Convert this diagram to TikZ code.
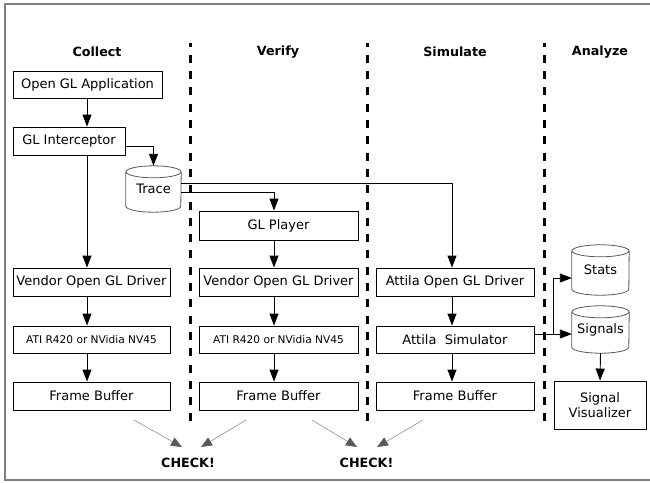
\documentclass[tikz,border=0pt]{standalone}
\usepackage{fontspec}
\setmainfont{DejaVu Sans}
\usetikzlibrary{arrows.meta}
\newcommand\mycyl[2]{%
  \fill[white] ([yshift=-6pt]#1.north west) -- ([yshift=6pt]#1.south west) arc[start angle=180,end angle=360,x radius=#2,y radius=6pt] -- ([yshift=-6pt]#1.north east) arc[start angle=0,end angle=180,x radius=#2,y radius=6pt] -- cycle;
  \draw[cylsty] ([yshift=-6pt]#1.north west) -- ([yshift=6pt]#1.south west) arc[start angle=180,end angle=360,x radius=#2,y radius=6pt] -- ([yshift=-6pt]#1.north east);
  \draw[cylsty] ([yshift=-6pt]#1.north) ellipse[x radius=#2, y radius=6pt];
}
\begin{document}
\begin{tikzpicture}[x=1pt,y=-1pt,
  box/.style={draw, line width=0.9pt, inner sep=0pt, minimum height=28pt, font=\fontsize{13}{15.5}\selectfont, align=center},
  smalltxt/.style={font=\fontsize{10.6}{13}\selectfont},
  hdr/.style={font=\bfseries\fontsize{12.7}{15}\selectfont, inner sep=0pt},
  cylnode/.style={inner sep=0pt, font=\fontsize{13}{15.5}\selectfont},
  cylsty/.style={draw=black!65, line width=0.8pt},
  arr/.style={-{Triangle[length=12pt,width=9pt]}, line width=0.9pt},
  chk/.style={-{Triangle[length=11pt,width=9pt,color=black!65,fill=black!65]}, line width=0.6pt, draw=black!45},
  divsty/.style={line width=3pt, dash pattern=on 8pt off 8.3pt, dash phase=4.5pt}]
\useasboundingbox (0,0) rectangle (650,482);
\draw[black!50, line width=1.2pt] (652,4) -- (5,4) -- (5,480) -- (652,480);

% dividers
\draw[divsty] (190,43) -- (190,428);
\draw[divsty] (367,43) -- (367,428);
\draw[divsty] (544,43) -- (544,428);

% headers
\node[hdr] (h1) at (97,52) {Collect};
\node[hdr] (h2) at (278,52) {Verify};
\node[hdr] (h3) at (455,52) {Simulate};
\node[hdr] (h4) at (600,52) {Analyze};

% column arrow x
\coordinate (c1) at (87,0);
\coordinate (c2) at (274,0);
\coordinate (c3) at (452,0);

% boxes
\node[box, minimum width=149pt, minimum height=27pt] (app) at (87.5,84.5) {Open GL Application};
\node[box, minimum width=112pt] (icpt) at (69,141) {GL Interceptor};
\node[box, minimum width=159pt, minimum height=29pt] (player) at (278.5,225.5) {GL Player};

\node[box, minimum width=157pt] (vend1) at (91.5,282) {Vendor Open GL Driver};
\node[box, minimum width=159pt] (vend2) at (278.5,282) {Vendor Open GL Driver};
\node[box, minimum width=158pt] (attdrv) at (455,282) {Attila Open GL Driver};

\node[box, smalltxt, minimum width=157pt, minimum height=27pt] (ati1) at (91.5,339.5) {ATI R420 or NVidia NV45};
\node[box, smalltxt, minimum width=159pt, minimum height=27pt] (ati2) at (278.5,339.5) {ATI R420 or NVidia NV45};
\node[box, minimum width=158pt, minimum height=27pt] (attsim) at (455,339.5) {Attila\ \ Simulator};

\node[box, minimum width=157pt] (fb1) at (91.5,396) {Frame Buffer};
\node[box, minimum width=159pt] (fb2) at (278.5,396) {Frame Buffer};
\node[box, minimum width=158pt] (fb3) at (455,396) {Frame Buffer};

\node[box, minimum width=92pt, minimum height=48pt, font=\fontsize{13}{15}\selectfont] (vis) at (600,405) {Signal\\Visualizer};

% cylinders (shapes)
\node[cylnode, minimum width=55pt, minimum height=46pt] (trace) at (153.5,189) {};
\mycyl{trace}{27.5pt}
\node[cylnode, minimum width=57pt, minimum height=50pt] (stats) at (600.5,270) {};
\mycyl{stats}{28.5pt}
\node[cylnode, minimum width=57pt, minimum height=47pt] (signals) at (600.5,329.5) {};
\mycyl{signals}{28.5pt}
% cylinder labels
\node[cylnode] (tracel) at (trace) {\raisebox{-3pt}{Trace}};
\node[cylnode] (statsl) at (stats) {\raisebox{-5pt}{Stats}};
\node[cylnode] (signalsl) at (signals) {\raisebox{-4pt}{Signals}};

% arrows collect
\draw[arr] (app.south -| c1) -- (icpt.north -| c1);
\draw[arr] (icpt.south -| c1) -- (vend1.north -| c1);
\draw[arr] ([yshift=-5pt]icpt.east) -| (trace.north);
\draw[arr] (vend1.south -| c1) -- (ati1.north -| c1);
\draw[arr] (ati1.south -| c1) -- (fb1.north -| c1);

% trace outputs
\draw[arr] ([yshift=6pt]trace.east) -| (attdrv.north -| c3);
\draw[arr] ([yshift=-3pt]trace.east) -| (player.north -| c2);

% verify
\draw[arr] (player.south -| c2) -- (vend2.north -| c2);
\draw[arr] (vend2.south -| c2) -- (ati2.north -| c2);
\draw[arr] (ati2.south -| c2) -- (fb2.north -| c2);

% simulate
\draw[arr] (attdrv.south -| c3) -- (attsim.north -| c3);
\draw[arr] (attsim.south -| c3) -- (fb3.north -| c3);

% analyze
\coordinate (s0) at ([yshift=5.5pt]attsim.east);
\coordinate (br) at (553,0);
\draw[arr] (s0) -- (s0 -| signals.west);
\draw[arr] (s0 -| br) |- ([yshift=-8pt]stats.west);
\draw[arr] (signals.south) -- (vis.north);

% checks
\node[hdr] (chk1) at (188,463) {CHECK!};
\node[hdr] (chk2) at (366.5,463) {CHECK!};
\coordinate (g1) at (134,420); \coordinate (g1t) at (182,447);
\coordinate (g2) at (246,420); \coordinate (g2t) at (201,447);
\coordinate (g3) at (312,420); \coordinate (g3t) at (357,447);
\coordinate (g4) at (423,420); \coordinate (g4t) at (377,447);
\draw[chk] (g1) -- (g1t);
\draw[chk] (g2) -- (g2t);
\draw[chk] (g3) -- (g3t);
\draw[chk] (g4) -- (g4t);
\end{tikzpicture}
\end{document}
